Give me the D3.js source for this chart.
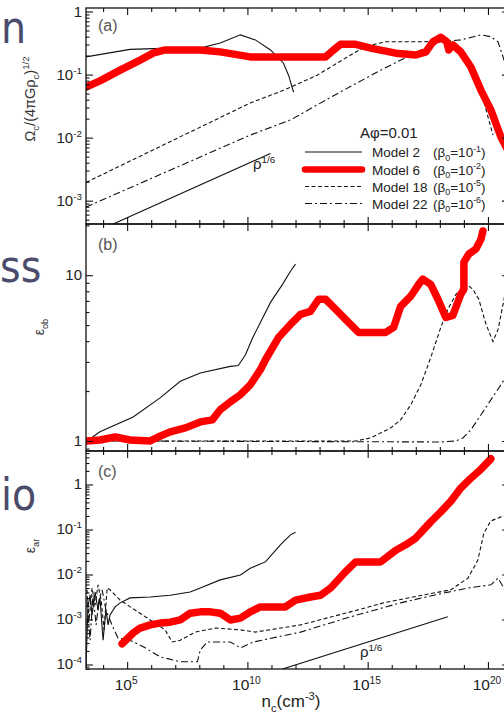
<!DOCTYPE html>
<html>
<head>
<meta charset="utf-8">
<script src="https://cdn.jsdelivr.net/npm/d3@7"></script>
<style>
  body { margin: 0; background: #fff; }
  svg { display: block; font-family: "Liberation Sans", Arial, sans-serif; }
</style>
</head>
<body>
<div id="chart"></div>
<script>
// all points are [log10 n_c, log10 value]

// (a) Omega_c / (4 pi G rho_c)^1/2
var omegaM2 = [[3.29,-0.72],[5.12,-0.6],[6.79,-0.58],[8.04,-0.58],[8.87,-0.5],[9.71,-0.37],[10.33,-0.45],[10.96,-0.61],[11.5,-0.82],[11.71,-1.01],[11.92,-1.28]];
var omegaM6 = [[3.29,-1.2],[3.87,-1.1],[4.71,-0.93],[5.54,-0.77],[6.08,-0.66],[6.58,-0.61],[8.04,-0.61],[8.87,-0.64],[10.12,-0.72],[13.25,-0.72],[13.58,-0.61],[13.87,-0.52],[14.5,-0.52],[15.12,-0.58],[16.17,-0.66],[17.0,-0.69],[17.42,-0.64],[17.71,-0.48],[18.04,-0.41],[18.29,-0.48],[18.37,-0.61],[18.54,-0.53],[18.87,-0.64],[19.29,-0.88],[19.71,-1.25],[20.12,-1.56],[20.54,-1.99],[20.87,-2.23]];
var omegaM18 = [[3.29,-2.71],[10.12,-1.45],[11.5,-1.25],[12.9,-1.01],[14.29,-0.69],[14.92,-0.55],[15.75,-0.48],[17.42,-0.48],[18.04,-0.45],[18.67,-0.53],[19.08,-0.69],[19.58,-1.09],[19.92,-1.56],[20.21,-1.96]];
var omegaM22 = [[3.29,-3.1],[10.12,-1.96],[11.79,-1.72],[13.46,-1.36],[15.54,-0.93],[17.21,-0.61],[18.04,-0.48],[18.87,-0.45],[19.71,-0.37],[20.12,-0.4],[20.42,-0.48],[20.67,-0.77],[20.87,-1.01]];
var omegaSlope = [[4.42,-3.37],[10.96,-2.25]];

// (b) oblateness
var oblM2 = [[3.33,0],[3.87,0.055],[5.25,0.145],[6.37,0.26],[7.21,0.36],[8.04,0.41],[9.29,0.45],[9.62,0.455],[9.92,0.52],[10.21,0.62],[10.54,0.715],[10.96,0.836],[11.46,0.945],[11.79,1.024],[12.0,1.067]];
var oblM6 = [[3.33,0],[3.87,0.006],[4.5,0.024],[5.12,0.006],[5.96,0],[6.29,0.024],[6.79,0.055],[7.42,0.079],[8.04,0.115],[8.54,0.127],[8.87,0.188],[9.29,0.236],[9.71,0.279],[10.12,0.339],[10.54,0.43],[10.75,0.49],[11.29,0.624],[11.79,0.703],[12.21,0.764],[12.62,0.782],[12.96,0.855],[13.25,0.855],[13.67,0.794],[14.08,0.733],[14.62,0.655],[15.75,0.655],[16.08,0.685],[16.37,0.812],[16.79,0.873],[17.12,0.945],[17.29,0.976],[17.62,0.945],[17.92,0.855],[18.25,0.745],[18.54,0.758],[18.87,0.885],[19.0,0.915],[19.0,1.079],[19.2,1.127],[19.5,1.158],[19.71,1.218],[19.79,1.267]];
var oblM18 = [[3.33,0],[14.5,0],[15.12,0.018],[15.96,0.079],[16.37,0.127],[16.79,0.218],[17.21,0.339],[17.62,0.503],[18.04,0.685],[18.33,0.794],[18.67,0.885],[19.12,0.945],[19.37,0.915],[19.62,0.855],[19.92,0.703],[20.21,0.6],[20.42,0.673],[20.67,0.855],[20.87,1.036]];
var oblM22 = [[3.33,0],[18.04,-0.006],[18.67,0],[18.96,0.018],[19.29,0.067],[19.71,0.158],[20.12,0.248],[20.54,0.339],[20.87,0.418]];

// (c) axis ratio
var arM2 = [[3.29,-4.08],[3.37,-2.72],[3.46,-2.46],[3.54,-2.9],[3.67,-2.39],[3.79,-2.79],[3.87,-2.52],[4.0,-3.46],[4.12,-2.79],[4.21,-3.12],[4.29,-2.9],[4.5,-2.72],[4.71,-2.63],[5.12,-2.52],[5.96,-2.5],[6.79,-2.46],[7.62,-2.39],[8.04,-2.3],[8.87,-2.12],[9.71,-2.01],[10.12,-1.86],[10.75,-1.72],[11.37,-1.34],[11.79,-1.12],[12.0,-1.06]];
var arM6 = [[4.79,-3.54],[5.25,-3.3],[5.54,-3.19],[5.96,-3.12],[6.37,-3.08],[6.79,-3.06],[7.21,-3.01],[7.62,-2.86],[8.04,-2.83],[8.46,-2.83],[8.87,-2.86],[9.29,-3.01],[9.71,-2.97],[10.12,-2.83],[10.54,-2.72],[11.58,-2.72],[12.0,-2.57],[12.62,-2.5],[13.04,-2.46],[13.46,-2.3],[14.08,-1.94],[14.5,-1.72],[15.54,-1.72],[16.17,-1.46],[16.58,-1.34],[17.0,-1.19],[17.62,-0.83],[18.04,-0.61],[18.46,-0.37],[18.87,-0.08],[19.29,0.14],[19.71,0.34],[20.12,0.57]];
var arM18 = [[3.33,-2.34],[3.42,-3.01],[3.54,-2.3],[3.67,-2.68],[3.79,-2.23],[3.92,-2.57],[4.04,-3.23],[4.17,-2.3],[4.29,-2.34],[4.71,-2.57],[5.33,-2.79],[5.96,-3.01],[6.58,-3.23],[6.87,-3.5],[7.21,-3.46],[7.83,-3.28],[8.67,-3.19],[9.71,-3.23],[10.33,-3.28],[12.21,-3.12],[14.29,-2.83],[15.67,-2.63],[17.08,-2.48],[18.46,-2.34],[19.17,-2.08],[19.58,-1.68],[19.83,-1.08],[20.12,-0.81],[20.54,-0.72],[20.87,-0.7]];
var arM22 = [[3.33,-2.57],[3.46,-3.46],[3.58,-2.46],[3.71,-3.12],[3.83,-2.57],[3.96,-2.34],[4.12,-2.79],[4.37,-3.12],[4.62,-3.41],[5.12,-3.46],[5.75,-3.63],[6.37,-3.83],[7.21,-3.94],[7.92,-3.94],[8.04,-3.68],[8.33,-3.5],[9.29,-3.5],[9.71,-3.63],[10.25,-3.5],[12.21,-3.28],[14.29,-2.94],[16.37,-2.63],[17.75,-2.46],[19.17,-2.3],[20.12,-2.23],[20.42,-2.08],[20.54,-2.19],[20.75,-2.39]];
var arSlope = [[11.46,-4.1],[18.33,-2.94]];

var xMajor = [5, 10, 15, 20];
var legendModels = ["Model 2", "Model 6", "Model 18", "Model 22"];
var legendBeta = ["-1", "-2", "-5", "-6"];
var slideWords = ["n", "ss", "io"];

var width = 504, height = 715;
var svg = d3.select("#chart").append("svg")
    .attr("width", width)
    .attr("height", height);

var left = 86, right = 509;
var x = d3.scaleLog().domain([Math.pow(10, 3.29), Math.pow(10, 20.875)]).range([left, right]);

var panels = [
  {top: 8, bottom: 224, dom: [-3.37, 0.056], majors: [0, -1, -2, -3],
   series: [
     {d: omegaM2, style: "solid"}, {d: omegaM18, style: "dash"}, {d: omegaM22, style: "dashdot"},
     {d: omegaSlope, style: "solid"}, {d: omegaM6, style: "red"}]},
  {top: 224, bottom: 451, dom: [-0.0606, 1.309], majors: [0, 1],
   series: [
     {d: oblM2, style: "solid"}, {d: oblM18, style: "dash"}, {d: oblM22, style: "dashdot"},
     {d: oblM6, style: "red"}]},
  {top: 451, bottom: 669, dom: [-4.1, 0.744], majors: [0, -1, -2, -3, -4],
   series: [
     {d: arM2, style: "solid"}, {d: arM18, style: "dash"}, {d: arM22, style: "dashdot"},
     {d: arSlope, style: "solid"}, {d: arM6, style: "red"}]}
];

function rich(t, parts, fs) {
  var shift = 0;
  parts.forEach(function(p) {
    var target = p[1] === "sup" ? -0.4 * fs : p[1] === "sub" ? 0.28 * fs : 0;
    t.append("tspan")
      .attr("dy", target - shift)
      .style("font-size", (p[1] === "n" ? fs : fs * 0.66) + "px")
      .text(p[0]);
    shift = target;
  });
}

function expLabel(k) {
  if (k === 0) return [["1", "n"]];
  if (k === 1) return [["10", "n"]];
  return [["10", "n"], [String(k), "sup"]];
}

panels.forEach(function(p, i) {
  var y = d3.scaleLog()
      .domain([Math.pow(10, p.dom[0]), Math.pow(10, p.dom[1])])
      .range([p.bottom, p.top]);

  var clipId = "clip" + i;
  svg.append("clipPath").attr("id", clipId)
    .append("rect").attr("x", left).attr("y", p.top - 10)
    .attr("width", right - left).attr("height", p.bottom - p.top + 10);

  var line = d3.line()
      .x(function(d) { return x(Math.pow(10, d[0])); })
      .y(function(d) { return y(Math.pow(10, d[1])); });

  var g = svg.append("g").attr("clip-path", "url(#" + clipId + ")");
  p.series.forEach(function(s) {
    if (s.style === "red") {
      // original black curve peeks out from under the red highlight
      g.append("path").attr("d", line(s.d))
        .attr("transform", "translate(1.5,1.5)")
        .attr("fill", "none").attr("stroke", "#111").attr("stroke-width", 1);
      g.append("path").attr("d", line(s.d))
        .attr("fill", "none").attr("stroke", "#ff0000")
        .attr("stroke-width", 7.5).attr("stroke-linejoin", "round").attr("stroke-linecap", "round");
    } else {
      g.append("path").attr("d", line(s.d))
        .attr("fill", "none").attr("stroke", "#111").attr("stroke-width", 1.1)
        .attr("stroke-dasharray", s.style === "dash" ? "4,2.5" : s.style === "dashdot" ? "7,3,2,3" : null);
    }
  });

  // ticks
  var decades = d3.range(Math.floor(p.dom[0]), Math.ceil(p.dom[1]) + 1);
  var minors = [];
  decades.forEach(function(k) {
    d3.range(2, 10).forEach(function(m) {
      var v = m * Math.pow(10, k);
      var lv = Math.log10(v);
      if (lv > p.dom[0] && lv < p.dom[1]) minors.push(v);
    });
  });
  var majors = p.majors.map(function(k) { return Math.pow(10, k); });

  function yAxis(gen, vals, size, tx) {
    svg.append("g").attr("transform", "translate(" + tx + ",0)")
      .call(gen(y).tickValues(vals).tickSize(-size).tickFormat(""))
      .call(function(a) { a.select(".domain").remove(); a.selectAll("line").attr("stroke", "#111").attr("stroke-width", 1.1); });
  }
  yAxis(d3.axisLeft, majors, 7, left);
  yAxis(d3.axisLeft, minors, 3.5, left);
  yAxis(d3.axisRight, majors, 7, right);
  yAxis(d3.axisRight, minors, 3.5, right);

  var xDec = d3.range(4, 21).filter(function(k) { return xMajor.indexOf(k) < 0; }).map(function(k) { return Math.pow(10, k); });
  var xMaj = xMajor.map(function(k) { return Math.pow(10, k); });
  function xAxis(gen, vals, size, ty) {
    svg.append("g").attr("transform", "translate(0," + ty + ")")
      .call(gen(x).tickValues(vals).tickSize(-size).tickFormat(""))
      .call(function(a) { a.select(".domain").remove(); a.selectAll("line").attr("stroke", "#111").attr("stroke-width", 1.1); });
  }
  xAxis(d3.axisTop, xMaj, 7, p.top);
  xAxis(d3.axisTop, xDec, 4, p.top);
  xAxis(d3.axisBottom, xMaj, 7, p.bottom);
  xAxis(d3.axisBottom, xDec, 4, p.bottom);

  // frame
  svg.append("rect").attr("x", left).attr("y", p.top)
    .attr("width", right - left).attr("height", p.bottom - p.top)
    .attr("fill", "none").attr("stroke", "#111").attr("stroke-width", 1.3);

  // y tick labels
  p.majors.forEach(function(k) {
    var t = svg.append("text").attr("x", 82).attr("y", y(Math.pow(10, k)) + 5)
      .attr("text-anchor", "end").attr("fill", "#222").style("font-size", "15px");
    rich(t, expLabel(k), 15);
  });

  svg.append("text").attr("x", 98).attr("y", [31, 250, 477][i])
    .attr("fill", "#555").style("font-size", "16px").text("(" + "abc"[i] + ")");
});

// x tick labels
xMajor.forEach(function(k) {
  var t = svg.append("text").attr("x", x(Math.pow(10, k)) - 1).attr("y", 690)
    .attr("text-anchor", "middle").attr("fill", "#222").style("font-size", "15.5px");
  rich(t, [["10", "n"], [String(k), "sup"]], 15.5);
});

var xt = svg.append("text").attr("x", 291).attr("y", 707)
  .attr("text-anchor", "middle").attr("fill", "#222").style("font-size", "17px");
rich(xt, [["n", "n"], ["c", "sub"], ["(cm", "n"], ["-3", "sup"], [")", "n"]], 17);

// y titles
var yt1 = svg.append("text").attr("transform", "translate(35,99) rotate(-90)")
  .attr("text-anchor", "middle").attr("fill", "#333").style("font-size", "14.5px");
rich(yt1, [["\u03a9", "n"], ["c", "sub"], ["/(4\u03c0G\u03c1", "n"], ["c", "sub"], [")", "n"], ["1/2", "sup"]], 14.5);
var yt2 = svg.append("text").attr("transform", "translate(44,327) rotate(-90)")
  .attr("text-anchor", "middle").attr("fill", "#333").style("font-size", "14px");
rich(yt2, [["\u03b5", "n"], ["ob", "sub"]], 14);
var yt3 = svg.append("text").attr("transform", "translate(35,546) rotate(-90)")
  .attr("text-anchor", "middle").attr("fill", "#333").style("font-size", "14px");
rich(yt3, [["\u03b5", "n"], ["ar", "sub"]], 14);

// rho^(1/6) labels
[[253, 169], [360, 657]].forEach(function(pos) {
  var t = svg.append("text").attr("x", pos[0]).attr("y", pos[1])
    .attr("fill", "#222").style("font-size", "15px");
  rich(t, [["\u03c1", "n"], ["1/6", "sup"]], 15);
});

// legend
svg.append("text").attr("x", 360).attr("y", 138).attr("fill", "#222")
  .style("font-size", "15px").text("A\u03c6=0.01");
var rowY = [152, 169.5, 186.5, 203.5];
var styles = ["solid", "red", "dash", "dashdot"];
legendModels.forEach(function(m, i) {
  var ly = rowY[i];
  if (styles[i] === "red") {
    svg.append("line").attr("x1", 305).attr("x2", 362).attr("y1", ly).attr("y2", ly)
      .attr("stroke", "#ff0000").attr("stroke-width", 6.5).attr("stroke-linecap", "round");
  } else {
    svg.append("line").attr("x1", 305).attr("x2", 362).attr("y1", ly).attr("y2", ly)
      .attr("stroke", "#111").attr("stroke-width", 1.1)
      .attr("stroke-dasharray", styles[i] === "dash" ? "4,2.5" : styles[i] === "dashdot" ? "7,3,2,3" : null);
  }
  svg.append("text").attr("x", 372).attr("y", ly + 5).attr("fill", "#222")
    .style("font-size", "13.5px").text(m);
  var t = svg.append("text").attr("x", 433).attr("y", ly + 5).attr("fill", "#222")
    .style("font-size", "13.5px");
  rich(t, [["(\u03b2", "n"], ["0", "sub"], ["=10", "n"], [legendBeta[i], "sup"], [")", "n"]], 13.5);
});

// slide text peeking in from the left
[[1, 43], [0, 282], [1, 510]].forEach(function(pos, i) {
  svg.append("text").attr("x", pos[0]).attr("y", pos[1])
    .attr("fill", "#4b4b6b")
    .style("font-family", "'DejaVu Sans Condensed', 'DejaVu Sans', sans-serif")
    .style("font-size", "44px").text(slideWords[i]);
});
</script>
</body>
</html>
